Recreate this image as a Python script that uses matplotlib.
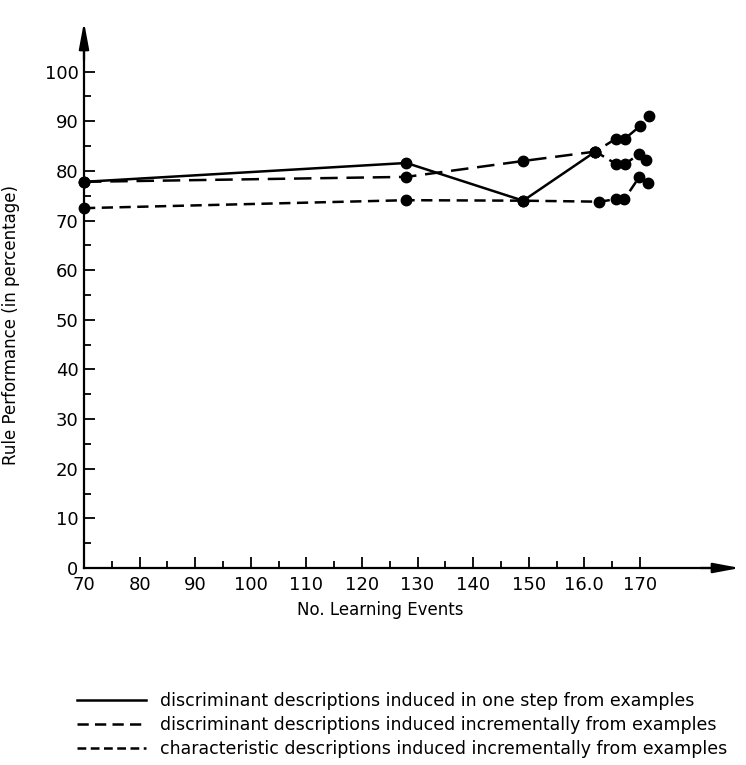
import numpy as np
import matplotlib
matplotlib.use('Agg')
import matplotlib.pyplot as plt
from matplotlib.lines import Line2D

# DATA
x_one_step = [70, 128, 149, 162]
y_one_step = [77.8, 81.6, 74.0, 83.9]
# continuation of the one-step series after 162 (drawn dashed in the original)
x_one_step_tail = [162, 165.7, 167.3, 169.9, 171.1]
y_one_step_tail = [83.9, 81.4, 81.4, 83.4, 82.2]

x_disc_incr = [70, 128, 149, 162, 165.7, 167.3, 170.0, 171.6]
y_disc_incr = [77.8, 78.8, 82.0, 83.9, 86.5, 86.5, 89.0, 91.0]

x_char_incr = [70, 128, 149, 162.7, 165.7, 167.2, 169.9, 171.4]
y_char_incr = [72.5, 74.1, 74.0, 73.8, 74.3, 74.3, 78.8, 77.6]

x_ticks = [70, 80, 90, 100, 110, 120, 130, 140, 150, 160, 170]
x_ticklabels = ['70', '80', '90', '100', '110', '120', '130', '140', '150', '16.0', '170']
y_ticks = [0, 10, 20, 30, 40, 50, 60, 70, 80, 90, 100]

legend_labels = [
    'discriminant descriptions induced in one step from examples',
    'discriminant descriptions induced incrementally from examples',
    'characteristic descriptions induced incrementally from examples',
]

W, H = 746, 765
fig = plt.figure(figsize=(W / 100, H / 100), dpi=100)
ax = fig.add_axes([84 / W, 1 - 568 / H, (740 - 84) / W, (568 - 22) / H])

LW = 1.8
MS = 7.5
long_dash = (7, 3.5)
short_dash = (4.5, 2.6)

ax.plot(x_one_step, y_one_step, color='black', lw=LW, marker='o', ms=MS, clip_on=False)
ax.plot(x_one_step_tail, y_one_step_tail, color='black', lw=LW, marker='o', ms=MS,
        dashes=(4, 2.5), clip_on=False)
ax.plot(x_disc_incr, y_disc_incr, color='black', lw=LW, marker='o', ms=MS,
        dashes=long_dash, clip_on=False)
ax.plot(x_char_incr, y_char_incr, color='black', lw=LW, marker='o', ms=MS,
        dashes=short_dash, clip_on=False)

ax.set_xlim(70, 188)
ax.set_ylim(0, 110)

for s in ['top', 'right']:
    ax.spines[s].set_visible(False)
for s in ['left', 'bottom']:
    ax.spines[s].set_linewidth(1.6)
ax.spines['left'].set_bounds(0, 106)
ax.spines['bottom'].set_bounds(70, 184)

ax.set_xticks(x_ticks)
ax.set_xticklabels(x_ticklabels)
ax.set_yticks(y_ticks)
ax.set_xticks(np.arange(75, 175, 10), minor=True)
ax.set_yticks(np.arange(5, 105, 10), minor=True)
ax.tick_params(which='major', direction='in', length=8, width=1.3, labelsize=13, pad=6)
ax.tick_params(which='minor', direction='in', length=5, width=1.3)
ax.tick_params(axis='y', which='major', pad=4)

# axis arrows
arrow_kw = dict(arrowstyle='-|>,head_length=1.6,head_width=0.3',
                color='black', lw=1.6, shrinkA=0, shrinkB=0)
ax.annotate('', xy=(0, 1), xytext=(0, 0.93), xycoords='axes fraction', arrowprops=arrow_kw)
ax.annotate('', xy=(1, 0), xytext=(0.94, 0), xycoords='axes fraction', arrowprops=arrow_kw)

ax.set_xlabel('No. Learning Events', fontsize=12)
ax.set_ylabel('Rule Performance (in percentage)', fontsize=12)
ax.xaxis.set_label_coords(0.451, -0.06)
ax.yaxis.set_label_coords(-0.098, 0.445)

handles = [
    Line2D([], [], color='black', lw=LW),
    Line2D([], [], color='black', lw=LW, dashes=(4.5, 2.5)),
    Line2D([], [], color='black', lw=LW, dashes=(3.5, 1.8)),
]
fig.legend(handles, legend_labels, loc='upper left', bbox_to_anchor=(70 / W, 1 - 685 / H),
           frameon=False, fontsize=12.5, handlelength=4.0, handletextpad=0.8,
           labelspacing=0.35, borderaxespad=0)

fig.savefig('out.png', dpi=100)
